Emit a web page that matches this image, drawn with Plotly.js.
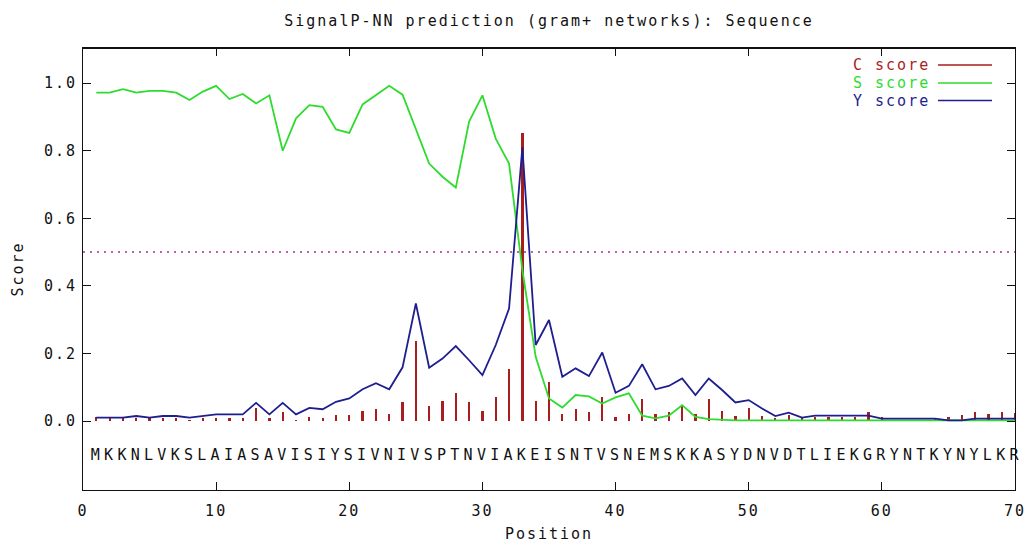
<!DOCTYPE html>
<html>
<head>
<meta charset="utf-8">
<script src="https://cdn.plot.ly/plotly-3.0.1.min.js"></script>
<style>
  html, body { margin: 0; padding: 0; background: #fff; }
  #chart { width: 1024px; height: 543px; }
  #chart .main-svg text { letter-spacing: 2px; }
</style>
</head>
<body>
<div id="chart"></div>
<script>
const sequence = "MKKNLVKSLAIASAVISIYSIVNIVSPTNVIAKEISNTVSNEMSKKASYDNVDTLIEKGRYNTKYNYLKR";
const positions = [1,2,3,4,5,6,7,8,9,10,11,12,13,14,15,16,17,18,19,20,21,22,23,24,25,26,27,28,29,30,31,32,33,34,35,36,37,38,39,40,41,42,43,44,45,46,47,48,49,50,51,52,53,54,55,56,57,58,59,60,61,62,63,64,65,66,67,68,69,70];
const cScore = [0.011,0.011,0.011,0.009,0.011,0.009,0.009,0.004,0.009,0.009,0.009,0.010,0.038,0.009,0.028,0.004,0.013,0.008,0.017,0.017,0.031,0.036,0.021,0.055,0.238,0.045,0.060,0.084,0.055,0.031,0.070,0.153,0.852,0.060,0.117,0.021,0.036,0.026,0.070,0.011,0.021,0.064,0.021,0.026,0.048,0.021,0.064,0.031,0.016,0.040,0.016,0.008,0.017,0.011,0.013,0.013,0.013,0.013,0.026,0.011,0.003,0.001,0.001,0.010,0.013,0.018,0.026,0.021,0.026,0.023];
const sScore = [0.972,0.972,0.982,0.972,0.977,0.977,0.972,0.950,0.975,0.992,0.953,0.968,0.940,0.964,0.800,0.896,0.935,0.930,0.863,0.853,0.937,0.964,0.992,0.966,0.861,0.762,0.723,0.691,0.886,0.964,0.836,0.762,0.447,0.190,0.067,0.040,0.077,0.073,0.052,0.070,0.082,0.016,0.008,0.016,0.047,0.012,0.006,0.003,0.002,0.002,0.002,0.002,0.002,0.002,0.002,0.002,0.002,0.002,0.002,0.002,0.002,0.002,0.002,0.002,0.002,0.002,0.002,0.002,0.002,0.002];
const yScore = [0.010,0.010,0.010,0.015,0.010,0.015,0.015,0.010,0.015,0.020,0.020,0.020,0.054,0.020,0.054,0.020,0.039,0.035,0.057,0.067,0.094,0.112,0.094,0.159,0.348,0.158,0.185,0.222,0.180,0.136,0.225,0.333,0.810,0.225,0.299,0.131,0.156,0.133,0.203,0.084,0.104,0.168,0.094,0.104,0.126,0.077,0.126,0.092,0.055,0.062,0.037,0.015,0.025,0.010,0.016,0.016,0.016,0.016,0.016,0.007,0.007,0.007,0.007,0.007,0.002,0.002,0.007,0.007,0.007,0.007];
const cutoff = 0.5;
const xTicks = [0,10,20,30,40,50,60,70];
const yTicks = [0.0,0.2,0.4,0.6,0.8,1.0];
const yTickText = ["0.0","0.2","0.4","0.6","0.8","1.0"];
const seriesNames = ["C score","S score","Y score"];

const FONT = "DejaVu Sans Mono, monospace";
const colC = "#a81e1e", colS = "#2edb2e", colY = "#1e1e8e", colCut = "#a030a0";

const seqLetters = sequence.split("");
const seqY = positions.map(() => -0.105);

const traces = [
  {type: "bar", x: positions, y: cScore, width: 0.17, marker: {color: colC, line: {width: 0}}, name: seriesNames[0], showlegend: false},
  {type: "scatter", mode: "lines", x: [0, 70], y: [cutoff, cutoff], line: {color: colCut, width: 1.5, dash: "2px,5px"}, showlegend: false},
  {type: "scatter", mode: "lines", x: positions, y: sScore, line: {color: colS, width: 1.8}, name: seriesNames[1], showlegend: false},
  {type: "scatter", mode: "lines", x: positions, y: yScore, line: {color: colY, width: 1.8}, name: seriesNames[2], showlegend: false},
  {type: "scatter", mode: "text", x: positions, y: seqY, text: seqLetters, textposition: "middle center", textfont: {family: FONT, size: 15, color: "#111"}, showlegend: false, cliponaxis: false}
];

// legend drawn as text + line (text first, line after, as in the reference)
const legY = [0.9615, 0.921, 0.881];
const legColors = [colC, colS, colY];
const annotations = seriesNames.map((n, i) => ({
  xref: "paper", yref: "paper", x: 0.9034, y: legY[i], xanchor: "right", yanchor: "middle",
  text: n, showarrow: false, font: {family: FONT, size: 15, color: legColors[i]}
}));
const shapes = seriesNames.map((n, i) => ({
  type: "line", xref: "paper", yref: "paper", x0: 0.9174, x1: 0.9753, y0: legY[i], y1: legY[i],
  line: {color: legColors[i], width: 1.5}
}));
// slightly heavier top frame, as in the reference
shapes.push({type: "line", xref: "paper", yref: "paper", x0: 0, x1: 1, y0: 1, y1: 1, line: {color: "#111", width: 2}});

const layout = {
  width: 1024, height: 543,
  margin: {l: 83, r: 9, t: 48, b: 53, pad: 0},
  paper_bgcolor: "#fff", plot_bgcolor: "#fff",
  font: {family: FONT, size: 15, color: "#111"},
  title: {text: "SignalP-NN prediction (gram+ networks): Sequence", xref: "paper", x: 0.5, xanchor: "center", yref: "container", y: 0.962, yanchor: "middle", font: {family: FONT, size: 15, color: "#111"}},
  showlegend: false,
  bargap: 0,
  xaxis: {
    range: [0, 70], tickvals: xTicks, ticktext: xTicks.map(String),
    ticks: "inside", ticklen: 8, tickwidth: 1, tickcolor: "#111",
    showline: true, linecolor: "#111", linewidth: 1, mirror: "ticks",
    showgrid: false, zeroline: false, fixedrange: true,
    ticklabeloverflow: "allow", ticklabelstandoff: 7,
    tickfont: {family: FONT, size: 15, color: "#111"},
    title: {text: "Position", standoff: 14, font: {family: FONT, size: 15, color: "#111"}}
  },
  yaxis: {
    range: [-0.204, 1.104], tickvals: yTicks, ticktext: yTickText,
    ticks: "inside", ticklen: 8, tickwidth: 1, tickcolor: "#111",
    showline: true, linecolor: "#111", linewidth: 1, mirror: "ticks",
    showgrid: false, zeroline: false, fixedrange: true,
    ticklabelstandoff: 2,
    tickfont: {family: FONT, size: 15, color: "#111"},
    title: {text: "Score", standoff: 22, font: {family: FONT, size: 15, color: "#111"}}
  },
  annotations: annotations,
  shapes: shapes
};

Plotly.newPlot("chart", traces, layout, {staticPlot: true, displayModeBar: false});
</script>
</body>
</html>
